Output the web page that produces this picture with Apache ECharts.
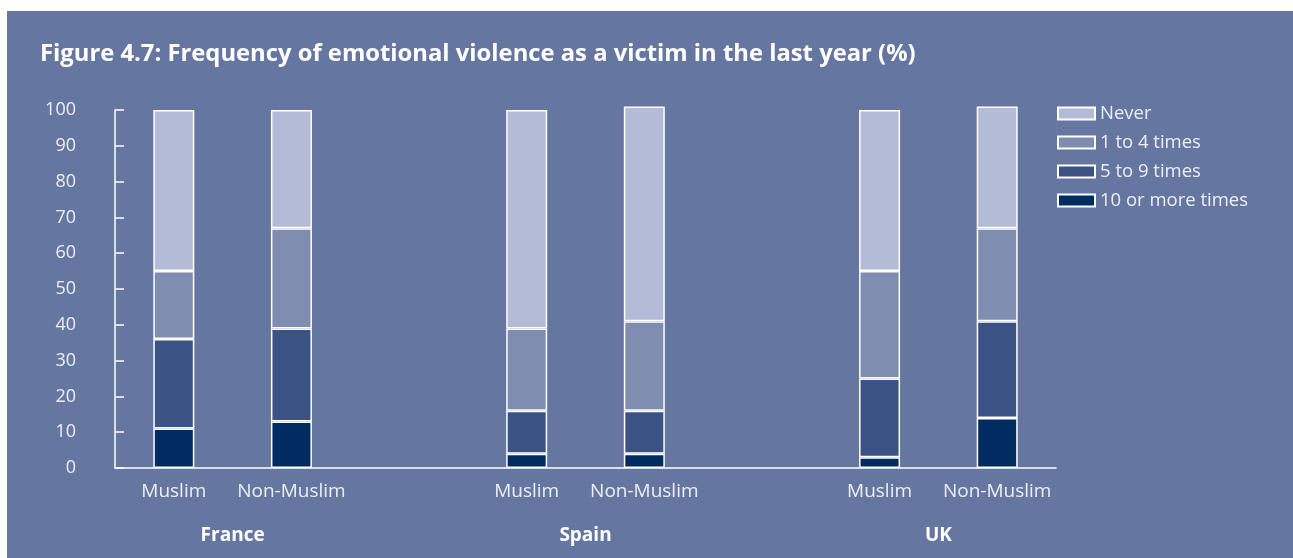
<!DOCTYPE html>
<html>
<head>
<meta charset="utf-8">
<script src="https://cdn.jsdelivr.net/npm/echarts@6/dist/echarts.min.js"></script>
<style>
html,body{margin:0;padding:0;background:#ffffff;}
#chart{width:1293px;height:558px;}
</style>
</head>
<body>
<div id="chart"></div>
<script>
const titleText = 'Figure 4.7: Frequency of emotional violence as a victim in the last year (%)';
const categories = ['Muslim', 'Non-Muslim', '', 'Muslim', 'Non-Muslim', '', 'Muslim', 'Non-Muslim'];
const countries = ['', 'France', '', '', 'Spain', '', '', 'UK', ''];
const seriesNames = ['10 or more times', '5 to 9 times', '1 to 4 times', 'Never'];
const tenOrMore = [11, 13, null, 4, 4, null, 3, 14];
const fiveToNine = [25, 26, null, 12, 12, null, 22, 27];
const oneToFour = [19, 28, null, 23, 25, null, 30, 26];
const never = [45, 33, null, 61, 60, null, 45, 34];
const yTicks = { min: 0, max: 100, interval: 10 };

const colors = ['#012c61', '#3b5384', '#7e8db0', '#b3bbd6'];
const values = [tenOrMore, fiveToNine, oneToFour, never];
const labelColor = '#eceff6';
const fontFamily = '"Open Sans", sans-serif';

const chart = echarts.init(document.getElementById('chart'));
chart.setOption({
  backgroundColor: '#ffffff',
  animation: false,
  graphic: [{
    type: 'rect', z: -10, silent: true,
    shape: { x: 7, y: 11, width: 1286, height: 547 },
    style: { fill: '#6577a1' }
  }],
  title: {
    text: titleText,
    left: 35, top: 37,
    textStyle: { color: '#ffffff', fontFamily: fontFamily, fontWeight: 700, fontSize: 23.8 }
  },
  legend: {
    data: ['Never', '1 to 4 times', '5 to 9 times', '10 or more times'],
    orient: 'vertical',
    left: 1052, top: 99,
    itemWidth: 37, itemHeight: 12, itemGap: 10,
    icon: 'rect',
    textStyle: { color: labelColor, fontFamily: fontFamily, fontSize: 18.5, lineHeight: 19 },
    selectedMode: false
  },
  grid: { left: 115, right: 237, top: 110, bottom: 90, containLabel: false },
  xAxis: [{
    type: 'category',
    data: categories,
    axisLine: { lineStyle: { color: '#ffffff', width: 1.5 } },
    axisTick: { inside: true, length: 9, lineStyle: { color: '#ffffff', width: 1.5 } },
    axisLabel: { interval: 0, color: labelColor, fontFamily: fontFamily, fontSize: 19, lineHeight: 20, margin: 14 }
  }, {
    type: 'category',
    data: countries,
    boundaryGap: false,
    position: 'bottom',
    axisLine: { show: false },
    axisTick: { show: false },
    axisLabel: { interval: 0, color: '#ffffff', fontFamily: fontFamily, fontWeight: 700, fontSize: 19, lineHeight: 20, margin: 58 }
  }],
  yAxis: {
    type: 'value',
    min: yTicks.min, max: yTicks.max, interval: yTicks.interval,
    splitLine: { show: false },
    axisLine: { show: true, lineStyle: { color: '#ffffff', width: 1.5 } },
    axisTick: { show: true, inside: true, length: 9, lineStyle: { color: '#ffffff', width: 1.5 } },
    axisLabel: { color: labelColor, fontFamily: fontFamily, fontSize: 18, lineHeight: 20, margin: 39, padding: [13, 0, 0, 0] }
  },
  series: seriesNames.map((name, i) => ({
    name: name,
    type: 'bar',
    stack: 'total',
    clip: false,
    barWidth: 41,
    data: values[i],
    itemStyle: { color: colors[i], borderColor: '#ffffff', borderWidth: 1.5 }
  }))
});
</script>
</body>
</html>
